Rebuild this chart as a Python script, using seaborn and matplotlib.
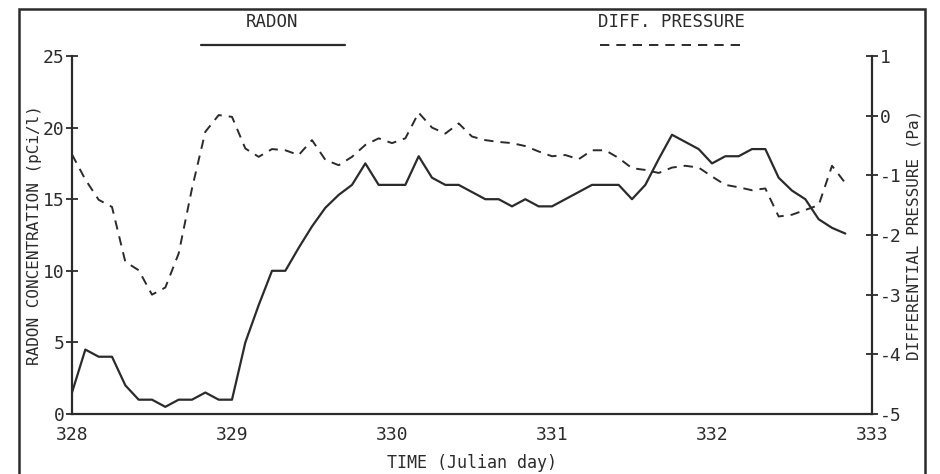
import matplotlib
matplotlib.use("Agg")
import matplotlib.pyplot as plt
import numpy as np
import pandas as pd
import seaborn as sns
from matplotlib.lines import Line2D
from matplotlib.patches import Rectangle
from matplotlib.ticker import MultipleLocator, FormatStrFormatter

# ---- data (2-hour samples starting at Julian day 328.0) ----
hours = [0, 2, 4, 6, 8, 10, 12, 14, 16, 18, 20, 22,
         24, 26, 28, 30, 32, 34, 36, 38, 40, 42, 44, 46,
         48, 50, 52, 54, 56, 58, 60, 62, 64, 66, 68, 70,
         72, 74, 76, 78, 80, 82, 84, 86, 88, 90, 92, 94,
         96, 98, 100, 102, 104, 106, 108, 110, 112, 114, 116]

radon = [1.5, 4.5, 4.0, 4.0, 2.0, 1.0, 1.0, 0.5, 1.0, 1.0, 1.5, 1.0,
         1.0, 5.0, 7.6, 10.0, 10.0, 11.6, 13.1, 14.4, 15.3, 16.0, 17.5, 16.0,
         16.0, 16.0, 18.0, 16.5, 16.0, 16.0, 15.5, 15.0, 15.0, 14.5, 15.0, 14.5,
         14.5, 15.0, 15.5, 16.0, 16.0, 16.0, 15.0, 16.0, 17.8, 19.5, 19.0, 18.5,
         17.5, 18.0, 18.0, 18.5, 18.5, 16.5, 15.6, 15.0, 13.6, 13.0, 12.6]

pressure = [-0.65, -1.07, -1.41, -1.53, -2.45, -2.59, -3.0, -2.88, -2.31, -1.22, -0.27, 0.01,
            -0.02, -0.55, -0.69, -0.56, -0.58, -0.66, -0.41, -0.74, -0.83, -0.69, -0.49, -0.38,
            -0.46, -0.38, 0.05, -0.20, -0.30, -0.13, -0.35, -0.41, -0.44, -0.46, -0.51, -0.60,
            -0.68, -0.66, -0.73, -0.58, -0.58, -0.71, -0.88, -0.91, -0.96, -0.87, -0.84, -0.87,
            -1.02, -1.16, -1.20, -1.25, -1.22, -1.69, -1.66, -1.58, -1.50, -0.84, -1.13]

start_day = 328
x_ticks = [328, 329, 330, 331, 332, 333]
left_ticks = [0, 5, 10, 15, 20, 25]
right_ticks = [-5, -4, -3, -2, -1, 0, 1]

series_names = ["RADON", "DIFF. PRESSURE"]
x_label = "TIME (Julian day)"
left_label = "RADON CONCENTRATION (pCi/l)"
right_label = "DIFFERENTIAL PRESSURE (Pa)"

df = pd.DataFrame({"day": [start_day + h / 24 for h in hours],
                   "radon": radon, "pressure": pressure})

# ---- style ----
sns.set_style("white")
plt.rcParams["font.family"] = ["DejaVu Sans Mono", "DejaVu Sans"]
plt.rcParams["axes.unicode_minus"] = False
ink = "#2b2b2b"

fig = plt.figure(figsize=(9.4, 4.74), dpi=100)
ax = fig.add_axes([72 / 940, 1 - 414 / 474, 800 / 940, 358 / 474])
ax2 = ax.twinx()

sns.lineplot(data=df, x="day", y="radon", ax=ax, color=ink, lw=1.6,
             sort=False, errorbar=None)
sns.lineplot(data=df, x="day", y="pressure", ax=ax2, color=ink, lw=1.4,
             linestyle=(0, (4.8, 3.6)), sort=False, errorbar=None)

ax.set_xlim(328, 333)
ax.set_ylim(0, 25)
ax2.set_ylim(-5, 1)
ax.set_xticks(x_ticks)
ax.xaxis.set_minor_locator(MultipleLocator(0.5))
ax.set_yticks(left_ticks)
ax2.set_yticks(right_ticks)
ax2.yaxis.set_major_formatter(FormatStrFormatter("%d"))

for a in (ax, ax2):
    for s in a.spines.values():
        s.set_visible(False)
    a.patch.set_visible(False)
ax.spines["left"].set_visible(True)
ax.spines["bottom"].set_visible(True)
ax2.spines["right"].set_visible(True)
for s in (ax.spines["left"], ax.spines["bottom"], ax2.spines["right"]):
    s.set_color(ink)
    s.set_linewidth(1.6)

ax.tick_params(axis="both", which="major", direction="inout", length=9, width=1.3,
               color=ink, labelcolor=ink, labelsize=13, pad=1)
ax.tick_params(axis="x", which="minor", direction="inout", length=5, width=1.3, color=ink)
ax.tick_params(axis="x", which="major", pad=4)
ax2.tick_params(axis="y", which="major", direction="inout", length=9, width=1.3,
                color=ink, labelcolor=ink, labelsize=13, pad=1)

ax.set_xlabel(x_label, fontsize=12, color=ink)
ax.set_ylabel(left_label, fontsize=11.5, color=ink)
ax2.set_ylabel(right_label, fontsize=11.5, color=ink, rotation=90)
ax.xaxis.set_label_coords(0.5, -0.112)
ax.yaxis.set_label_coords(-0.037, 0.5)
ax2.yaxis.set_label_coords(1.043, 0.5)

# ---- legend at top ----
fig.text(272 / 940, 1 - 22 / 474, series_names[0], ha="center", va="center",
         fontsize=12.5, color=ink)
fig.add_artist(Line2D([201 / 940, 345 / 940], [1 - 45 / 474] * 2,
                      transform=fig.transFigure, color=ink, lw=1.6))
fig.text(672 / 940, 1 - 22 / 474, series_names[1], ha="center", va="center",
         fontsize=12.5, color=ink)
fig.add_artist(Line2D([600 / 940, 745 / 940], [1 - 45 / 474] * 2,
                      transform=fig.transFigure, color=ink, lw=1.4,
                      linestyle=(0, (4.8, 3.6))))

# ---- outer frame ----
fig.add_artist(Rectangle((19 / 940, -0.1), 906 / 940, 0.1 + (1 - 9 / 474),
                         transform=fig.transFigure, fill=False, ec=ink, lw=1.8))

fig.savefig("out.png", dpi=100)
